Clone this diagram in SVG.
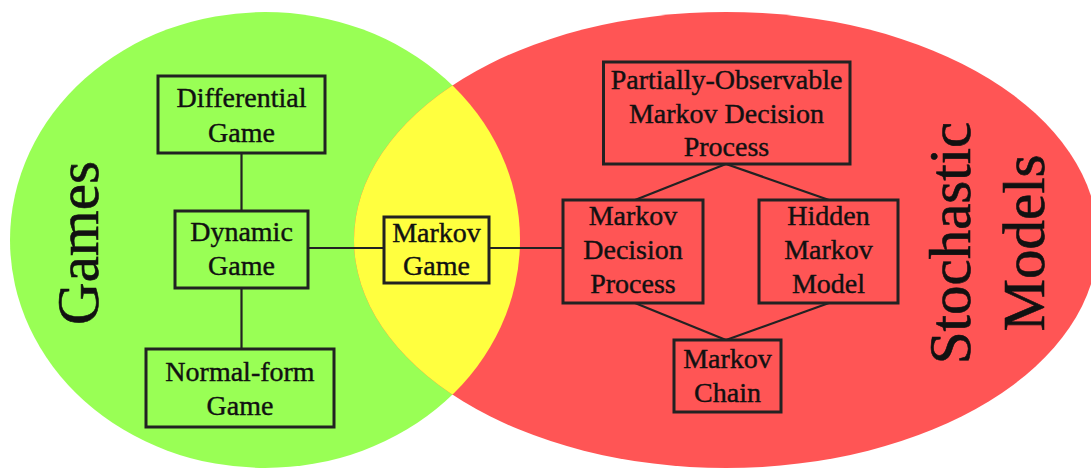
<svg xmlns="http://www.w3.org/2000/svg" width="1091" height="468" viewBox="0 0 1091 468">
<style>
.box{fill:none;stroke:#222;stroke-width:3}
.con line{stroke:#222;stroke-width:2.2}
text{font-family:"Liberation Serif","Times New Roman",serif;fill:#111;text-anchor:middle;stroke:#111;stroke-width:0.4}
.t{font-size:28px}
.big{font-size:59px;stroke-width:0.6}
</style>
<defs>
<clipPath id="gclip"><ellipse cx="265" cy="240" rx="255" ry="228"/></clipPath>
</defs>
<g id="sets">
<ellipse cx="265" cy="240" rx="255" ry="228" fill="#99FF55"/>
<ellipse cx="726" cy="240" rx="372" ry="228" fill="#FF5555"/>
<ellipse cx="726" cy="240" rx="372" ry="228" fill="#FFFF3F" clip-path="url(#gclip)"/>
<text class="big" transform="translate(98,243) rotate(-90)">Games</text>
<text class="big" transform="translate(970,243) rotate(-90)">Stochastic</text>
<text class="big" transform="translate(1044,243) rotate(-90)">Models</text>
</g>
<g id="connectors" class="con">
<line x1="241.5" y1="153" x2="241.5" y2="211"/>
<line x1="241.5" y1="288" x2="241.5" y2="349"/>
<line x1="308" y1="248" x2="384" y2="248"/>
<line x1="489" y1="248" x2="563" y2="248"/>
<line x1="726" y1="164" x2="635" y2="200"/>
<line x1="726" y1="164" x2="829" y2="200"/>
<line x1="635" y1="303" x2="726" y2="340"/>
<line x1="829" y1="303" x2="726" y2="340"/>
</g>
<g id="differential">
<rect class="box" x="158" y="76" width="167" height="77"/>
<text class="t" x="241.5" y="107">Differential</text>
<text class="t" x="241.5" y="142">Game</text>
</g>
<g id="dynamic">
<rect class="box" x="175" y="211" width="133" height="77"/>
<text class="t" x="241.5" y="241">Dynamic</text>
<text class="t" x="241.5" y="275">Game</text>
</g>
<g id="normalform">
<rect class="box" x="146" y="349" width="188" height="78"/>
<text class="t" x="240" y="381">Normal-form</text>
<text class="t" x="240" y="415">Game</text>
</g>
<g id="markovgame">
<rect class="box" x="384" y="217" width="105" height="66"/>
<text class="t" x="436.5" y="242">Markov</text>
<text class="t" x="436.5" y="275">Game</text>
</g>
<g id="pomdp">
<rect class="box" x="603.5" y="62" width="246.5" height="102"/>
<text class="t" x="726.5" y="89">Partially-Observable</text>
<text class="t" x="726.5" y="123">Markov Decision</text>
<text class="t" x="726.5" y="156">Process</text>
</g>
<g id="mdp">
<rect class="box" x="563" y="200" width="140" height="103"/>
<text class="t" x="633" y="225">Markov</text>
<text class="t" x="633" y="259">Decision</text>
<text class="t" x="633" y="293">Process</text>
</g>
<g id="hmm">
<rect class="box" x="759" y="200" width="139" height="103"/>
<text class="t" x="828.5" y="225">Hidden</text>
<text class="t" x="828.5" y="259">Markov</text>
<text class="t" x="828.5" y="293">Model</text>
</g>
<g id="chain">
<rect class="box" x="674" y="340" width="107" height="72"/>
<text class="t" x="727.5" y="368">Markov</text>
<text class="t" x="727.5" y="402">Chain</text>
</g>
</svg>
